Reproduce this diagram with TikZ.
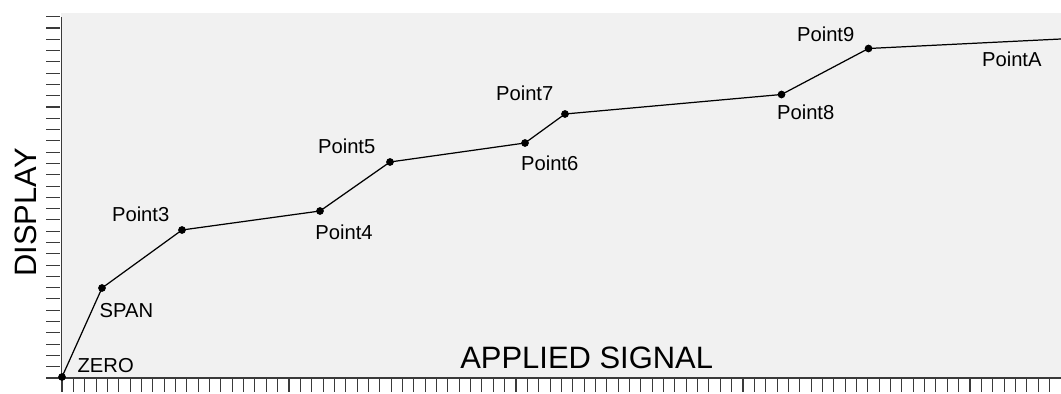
\documentclass[tikz,border=0pt]{standalone}
\usepackage{fontspec}
\setmainfont{Liberation Sans}
\usepackage{xcolor}
\definecolor{plotbg}{HTML}{F1F1F1}
\definecolor{axisgray}{HTML}{3A3A3A}

\tikzset{
	dot/.style={circle,fill=black,inner sep=0pt,minimum size=4.4pt},
	ptlabel/.style={anchor=base west,inner sep=0pt,font=\fontsize{11.5}{12}\selectfont},
	axlabel/.style={inner sep=0pt,font=\fontsize{17.6}{19}\selectfont},
	tick/.style={axisgray,line width=0.6pt}
}

\begin{document}
\begin{tikzpicture}[x=0.02cm,y=-0.02cm]
				\useasboundingbox (0,0) rectangle (1061,394);
				\fill[plotbg] (61,13) rectangle (1061,378);

				% ticks on both axes
				\foreach \k in {0,...,32}
					\draw[tick] (46,{16.7+\k*11.29}) -- (60,{16.7+\k*11.29});
				\foreach \k in {0,...,87}
					\draw[tick] ({62+\k*11.35},379) -- ({62+\k*11.35},392);
				\draw[axisgray,line width=0.8pt] (61.5,17) -- (61.5,378) -- (1061,378);

				% calibration points
				\node[dot] (zero) at (62,377) {};
				\node[dot] (span) at (102,288) {};
				\node[dot] (p3) at (182,230) {};
				\node[dot] (p4) at (320,211) {};
				\node[dot] (p5) at (390,162) {};
				\node[dot] (p6) at (525,143) {};
				\node[dot] (p7) at (565,114) {};
				\node[dot] (p8) at (781.5,94.5) {};
				\node[dot] (p9) at (868.5,48.5) {};
				\coordinate (pA) at (1061,39);
				\draw[line width=0.7pt] (zero.center) -- (span.center) -- (p3.center) -- (p4.center) -- (p5.center)
					-- (p6.center) -- (p7.center) -- (p8.center) -- (p9.center) -- (pA);

				\node[ptlabel] (zerolbl) at (77.3,372.3) {ZERO};
				\node[ptlabel] (spanlbl) at (99.3,317.7) {SPAN};
				\node[ptlabel] (p3lbl) at (111.7,221.7) {Point3};
				\node[ptlabel] (p4lbl) at (315,239.3) {Point4};
				\node[ptlabel] (p5lbl) at (317.7,154) {Point5};
				\node[ptlabel] (p6lbl) at (520.7,170.7) {Point6};
				\node[ptlabel] (p7lbl) at (495.7,100.7) {Point7};
				\node[ptlabel] (p8lbl) at (776.7,120) {Point8};
				\node[ptlabel] (p9lbl) at (796.7,42) {Point9};
				\node[ptlabel] (pAlbl) at (981.7,66.7) {PointA};

				\node[axlabel,anchor=base west] (xlbl) at (460,369) {APPLIED SIGNAL};
				\node[axlabel,anchor=base,rotate=90] (ylbl) at (36,212.5) {DISPLAY};
			\end{tikzpicture}
\end{document}
